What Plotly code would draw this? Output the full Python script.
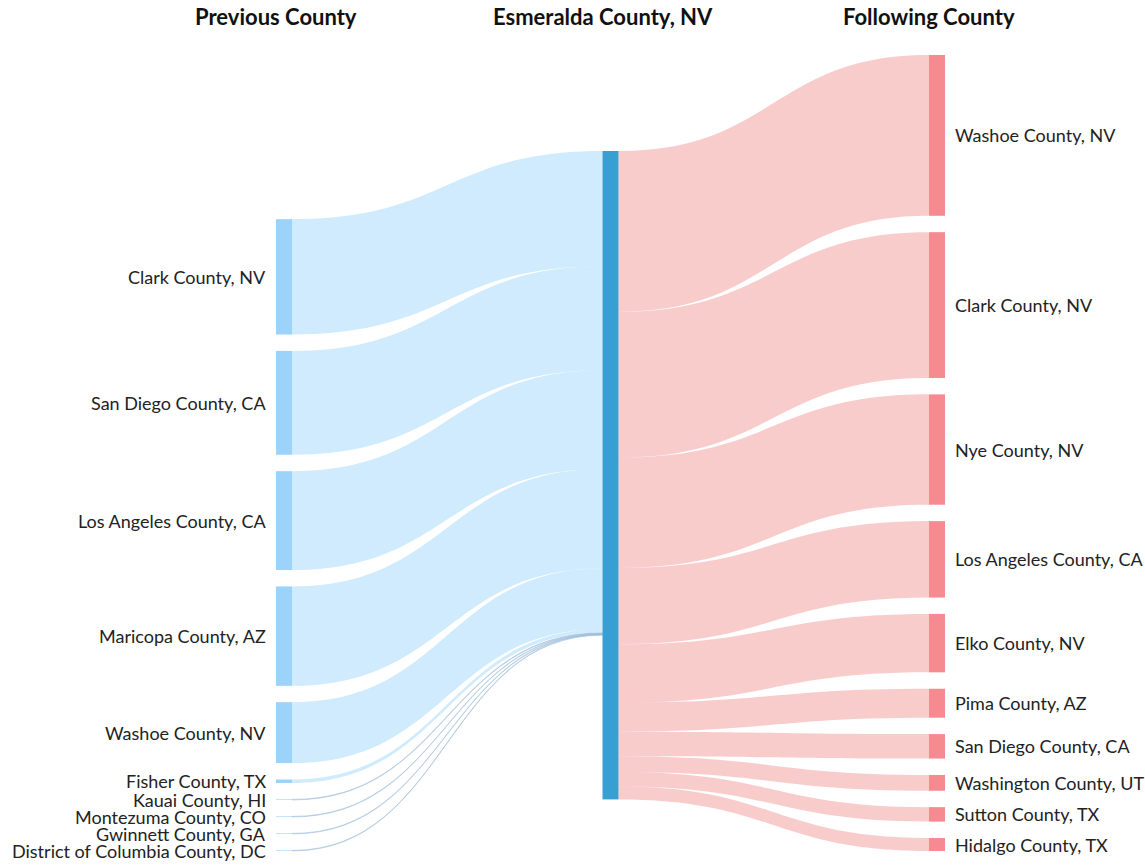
import plotly.graph_objects as go

# ---------------- data ----------------
center_county = "Esmeralda County, NV"

prev_counties = [
    "Clark County, NV", "San Diego County, CA", "Los Angeles County, CA",
    "Maricopa County, AZ", "Washoe County, NV", "Fisher County, TX",
    "Kauai County, HI", "Montezuma County, CO", "Gwinnett County, GA",
    "District of Columbia County, DC",
]
prev_values = [115.5, 104, 99, 99.5, 61, 3.5, 0.6, 0.6, 0.6, 0.6]

next_counties = [
    "Washoe County, NV", "Clark County, NV", "Nye County, NV",
    "Los Angeles County, CA", "Elko County, NV", "Pima County, AZ",
    "San Diego County, CA", "Washington County, UT", "Sutton County, TX",
    "Hidalgo County, TX",
]
next_values = [161, 146, 110.5, 76.5, 58.5, 29, 24.5, 15.8, 14.5, 13]

column_titles = ["Previous County", center_county, "Following County"]

# ---------------- layout constants ----------------
FIG_W, FIG_H = 1145, 865
M_L, M_R, M_T, M_B = 276, 200, 55, 14
PLOT_W = FIG_W - M_L - M_R
PLOT_H = FIG_H - M_T - M_B
PAD = 16.4
THICK = 16
MID_TOP = 96          # px offset of the centre node from the top of the plot area
LABEL_GAP = 8
TITLE_Y_PX = 17       # title centre, px from the top of the figure
FONT = "Lato, 'Open Sans', sans-serif"

LEFT_NODE = "#9cd3fb"
MID_NODE = "#389fd3"
RIGHT_NODE = "#f68a91"
LEFT_LINK = "rgba(135,206,250,0.40)"
SMALL_LINK = "rgba(150,185,215,0.45)"
RIGHT_LINK = "rgba(240,128,128,0.40)"

# ---------------- compute node geometry (same rule as d3-sankey) ----------------
n_prev, n_next = len(prev_counties), len(next_counties)
mid_value = max(sum(prev_values), sum(next_values))
ky = min(
    (PLOT_H - (n_prev - 1) * PAD) / sum(prev_values),
    (PLOT_H - (n_next - 1) * PAD) / sum(next_values),
    PLOT_H / mid_value,
)


def stack(values, start):
    centers = []
    y = start
    for v in values:
        h = v * ky
        centers.append((y + h / 2) / PLOT_H)
        y += h + PAD
    return centers


left_span = sum(prev_values) * ky + (n_prev - 1) * PAD
left_centers = stack(prev_values, PLOT_H - left_span)   # bottom aligned
right_centers = stack(next_values, 0)                   # top aligned
mid_center = (MID_TOP + mid_value * ky / 2) / PLOT_H

x_left = (THICK / 2) / PLOT_W
x_mid = 0.5
x_right = 1 - (THICK / 2) / PLOT_W

labels = prev_counties + [center_county] + next_counties
mid_idx = n_prev
node_x = [x_left] * n_prev + [x_mid] + [x_right] * n_next
node_y = left_centers + [mid_center] + right_centers
node_colors = [LEFT_NODE] * n_prev + [MID_NODE] + [RIGHT_NODE] * n_next

sources = list(range(n_prev)) + [mid_idx] * n_next
targets = [mid_idx] * n_prev + [mid_idx + 1 + i for i in range(n_next)]
values = prev_values + next_values
link_colors = [LEFT_LINK if v >= 2 else SMALL_LINK for v in prev_values] + [RIGHT_LINK] * n_next

fig = go.Figure(go.Sankey(
    arrangement="fixed",
    node=dict(
        label=labels,
        x=node_x,
        y=node_y,
        pad=PAD,
        thickness=THICK,
        color=node_colors,
        line=dict(width=0),
    ),
    link=dict(source=sources, target=targets, value=values, color=link_colors),
    textfont=dict(color="rgba(0,0,0,0)", size=1, family=FONT),
))

annotations = []
for name, c in zip(prev_counties, left_centers):
    annotations.append(dict(
        text=name, xref="paper", yref="paper",
        x=-LABEL_GAP / PLOT_W, y=1 - c, xanchor="right", yanchor="middle",
        showarrow=False, font=dict(family=FONT, size=18, color="#222"),
    ))
for name, c in zip(next_counties, right_centers):
    annotations.append(dict(
        text=name, xref="paper", yref="paper",
        x=1 + LABEL_GAP / PLOT_W, y=1 - c, xanchor="left", yanchor="middle",
        showarrow=False, font=dict(family=FONT, size=18, color="#222"),
    ))

title_x = [0, (x_mid * PLOT_W - THICK / 2) / PLOT_W, (PLOT_W - THICK) / PLOT_W]
for t, tx in zip(column_titles, title_x):
    annotations.append(dict(
        text="<b>%s</b>" % t, xref="paper", yref="paper",
        x=tx, y=1 + (M_T - TITLE_Y_PX) / PLOT_H, xanchor="center", yanchor="middle",
        showarrow=False, font=dict(family=FONT, size=22, color="#111"),
    ))

fig.update_layout(
    width=FIG_W, height=FIG_H,
    margin=dict(l=M_L, r=M_R, t=M_T, b=M_B),
    paper_bgcolor="white", plot_bgcolor="white",
    font=dict(family=FONT),
    annotations=annotations,
)

# place the figure flush with the window (no default 8px body margin, no scrollbars)
fig.write_html(
    "out.html",
    config={"displayModeBar": False},
    post_script="document.body.style.margin='0px';document.body.style.overflow='hidden';",
)
